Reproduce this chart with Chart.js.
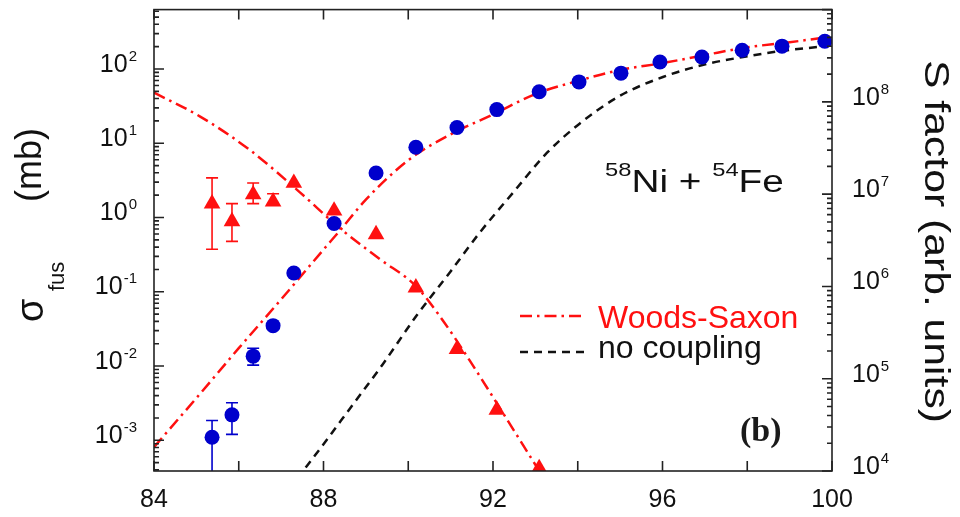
<!DOCTYPE html>
<html>
<head>
<meta charset="utf-8">
<script src="https://cdn.jsdelivr.net/npm/chart.js@4.4.1/dist/chart.umd.min.js"></script>
<style>
  html, body { margin: 0; padding: 0; background: #fff; }
  #wrap { width: 960px; height: 517px; }
</style>
</head>
<body>
<div id="wrap"><canvas id="chart" width="960" height="517"></canvas></div>
<script>
/* ---- Data: 58Ni + 54Fe fusion ---- */
const energies   = [85.37, 85.84, 86.34, 86.81, 87.30, 88.25, 89.24, 90.18, 91.15, 92.09,
                    93.09, 94.03, 95.02, 95.94, 96.93, 97.88, 98.82, 99.83];
const sigmaFus   = [1.1e-3, 2.2e-3, 1.36e-2, 3.5e-2, 0.179, 0.83, 3.98, 8.85, 16.3, 28.4,
                    49.4, 67, 88, 124, 145, 179, 203, 236];
const sigmaErrLo = [1e-5, 1.2e-3, 1.03e-2];
const sigmaErrHi = [1.85e-3, 3.2e-3, 1.74e-2];

const sEnergies  = [85.37, 85.84, 86.34, 86.81, 87.30, 88.25, 89.24, 90.18, 91.15, 92.09, 93.09];
const sFactor    = [7.9e6, 5.06e6, 9.9e6, 8.3e6, 1.32e7, 6.6e6, 3.66e6, 9.7e5, 2.09e5, 4.6e4, 1.07e4];
const sErrLo     = [2.53e6, 3.08e6, 7.9e6, 7.7e6];
const sErrHi     = [1.5e7, 7.9e6, 1.32e7, 1.01e7];

// Woods-Saxon calculation (cross section, left axis)
const wsSigmaE   = [84.0, 85.0, 86.0, 87.0, 88.0, 88.39, 89.0, 90.0, 91.0, 92.0, 93.0, 94.0,
                    95.0, 96.0, 97.0, 98.0, 99.0, 100.0];
const wsSigma    = [8.1e-4, 3.7e-3, 1.74e-2, 7.9e-2, 0.37, 0.67, 1.74, 5.9, 13.2, 24.4, 46, 69,
                    97, 120, 154, 196, 229, 275];
// Woods-Saxon calculation (S factor, right axis)
const wsSE       = [84.0, 85.09, 86.27, 87.45, 88.39, 89.33, 90.18, 90.75, 91.46, 92.17, 93.09, 93.58];
const wsS        = [1.26e8, 6.93e7, 2.99e7, 1.04e7, 4.26e6, 1.98e6, 1.01e6, 4.72e5, 1.55e5, 4.74e4,
                    1.0e4, 4.3e3];
// no coupling (cross section, left axis)
const noCoupE    = [87.2, 87.52, 88.0, 88.63, 89.40, 90.21, 90.99, 91.69, 92.47, 93.27, 94.05,
                    95.0, 96.01, 97.05, 97.90, 98.77, 99.83, 100.0];
const noCoup     = [2.1e-4, 3.86e-4, 8.85e-4, 2.71e-3, 1.06e-2, 4.9e-2, 0.185, 0.63, 2.15, 7.4, 18.5,
                    43.7, 78, 117, 145, 174, 203, 209];

// Axes
const xTicks       = [84, 86, 88, 90, 92, 94, 96, 98, 100];
const xLabels      = [84, 88, 92, 96, 100];
const leftDecades  = [-3, -2, -1, 0, 1, 2];
const rightDecades = [4, 5, 6, 7, 8];

/* ---- Style ---- */
const FONT  = '"Liberation Sans", Arial, Helvetica, sans-serif';
const RED   = '#ff1010';
const BLUE  = '#0000cc';
const BLACK = '#111111';
const DASHDOT = [12, 5, 2.5, 5];
const DASHED  = [8, 6];

const pts = (xs, ys) => xs.map((x, i) => ({ x, y: ys[i] }));

/* ---- Error bars ---- */
function drawBars(ctx, xs, ys, ex, lo, hi, color) {
  ctx.strokeStyle = color;
  ctx.lineWidth = 1.6;
  lo.forEach((l, i) => {
    if (l == null) return;
    const x  = xs.getPixelForValue(ex[i]);
    const y1 = ys.getPixelForValue(l);
    const y2 = ys.getPixelForValue(hi[i]);
    ctx.beginPath();
    ctx.moveTo(x, y1); ctx.lineTo(x, y2);
    ctx.moveTo(x - 6, y1); ctx.lineTo(x + 6, y1);
    ctx.moveTo(x - 6, y2); ctx.lineTo(x + 6, y2);
    ctx.stroke();
  });
}

const errorBarPlugin = {
  id: 'errorBars',
  beforeDatasetsDraw(chart) {
    const { ctx, chartArea: a, scales } = chart;
    ctx.save();
    ctx.beginPath();
    ctx.rect(a.left, a.top, a.right - a.left, a.bottom - a.top);
    ctx.clip();
    drawBars(ctx, scales.x, scales.y, energies, sigmaErrLo, sigmaErrHi, BLUE);
    drawBars(ctx, scales.x, scales.y2, sEnergies, sErrLo, sErrHi, RED);
    ctx.restore();
  }
};

/* ---- 10^n label ---- */
function drawPow(ctx, x, y, exp, align) {
  ctx.font = '25px ' + FONT;
  const w10 = ctx.measureText('10').width;
  ctx.font = '15px ' + FONT;
  const wE = ctx.measureText(String(exp)).width;
  const start = align === 'right' ? x - (w10 + 1 + wE) : x;
  ctx.textAlign = 'left';
  ctx.textBaseline = 'alphabetic';
  ctx.font = '25px ' + FONT;
  ctx.fillText('10', start, y);
  ctx.font = '15px ' + FONT;
  ctx.fillText(String(exp), start + w10 + 1, y - 11);
}

/* ---- Frame, ticks, labels, titles, legend ---- */
const framePlugin = {
  id: 'frame',
  afterDraw(chart) {
    const { ctx, chartArea: a, scales } = chart;
    const { x: sx, y: sy, y2: sy2 } = scales;
    ctx.save();
    ctx.strokeStyle = '#222';
    ctx.fillStyle = BLACK;
    ctx.lineWidth = 1.6;
    ctx.setLineDash([]);
    ctx.strokeRect(a.left, a.top, a.right - a.left, a.bottom - a.top);

    // ticks x (bottom and top, inward)
    ctx.beginPath();
    xTicks.forEach(v => {
      const px = sx.getPixelForValue(v);
      ctx.moveTo(px, a.bottom); ctx.lineTo(px, a.bottom - 10);
      ctx.moveTo(px, a.top);    ctx.lineTo(px, a.top + 10);
    });
    // log ticks, left and right
    const logTicks = (scale, edge, dir) => {
      for (let k = -6; k <= 10; k++) {
        for (let m = 1; m <= 9; m++) {
          const v = m * Math.pow(10, k);
          if (v < scale.min * 0.999 || v > scale.max * 1.001) continue;
          const py = scale.getPixelForValue(v);
          const len = m === 1 ? 10 : 5;
          ctx.moveTo(edge, py); ctx.lineTo(edge + dir * len, py);
        }
      }
    };
    logTicks(sy, a.left, 1);
    logTicks(sy2, a.right, -1);
    ctx.stroke();

    // tick labels
    ctx.font = '25px ' + FONT;
    ctx.textAlign = 'center';
    ctx.textBaseline = 'alphabetic';
    xLabels.forEach(v => ctx.fillText(String(v), sx.getPixelForValue(v), 507));
    leftDecades.forEach(k => drawPow(ctx, 137, sy.getPixelForValue(Math.pow(10, k)) + 2.5, k, 'right'));
    rightDecades.forEach(k => drawPow(ctx, 852, sy2.getPixelForValue(Math.pow(10, k)) + 3, k, 'left'));

    // left title
    ctx.save();
    ctx.translate(43, 0);
    ctx.rotate(-Math.PI / 2);
    ctx.textAlign = 'left';
    ctx.font = '38px ' + FONT;
    ctx.fillText('σ', -322, 0);
    ctx.font = '22px ' + FONT;
    ctx.fillText('fus', -291, 21);
    ctx.font = '36px ' + FONT;
    ctx.fillText('(mb)', -202, -2);
    ctx.restore();

    // right title (stretched along the text to span 60..423)
    ctx.save();
    ctx.translate(925, 60);
    ctx.rotate(Math.PI / 2);
    ctx.textAlign = 'left';
    ctx.font = '35px ' + FONT;
    const rt = 'S factor (arb. units)';
    const rw = ctx.measureText(rt).width;
    ctx.scale(363 / rw, 1);
    ctx.fillText(rt, 0, 0);
    ctx.restore();

    // reaction label, horizontally stretched
    ctx.save();
    ctx.translate(605, 192);
    ctx.scale(1.25, 1);
    ctx.textAlign = 'left';
    let cx = 0;
    const piece = (txt, size, dy) => {
      ctx.font = size + 'px ' + FONT;
      ctx.fillText(txt, cx, dy);
      cx += ctx.measureText(txt).width;
    };
    piece('58', 19, -16);
    piece('Ni + ', 31, 0);
    piece('54', 19, -16);
    piece('Fe', 31, 0);
    ctx.restore();

    // panel label
    ctx.font = 'bold 34px "Liberation Serif", "Times New Roman", serif';
    ctx.fillStyle = '#1a1a1a';
    ctx.textAlign = 'left';
    ctx.fillText('(b)', 740, 441);

    // legend
    ctx.lineWidth = 2.4;
    ctx.strokeStyle = RED;
    ctx.setLineDash(DASHDOT);
    ctx.beginPath(); ctx.moveTo(520, 316); ctx.lineTo(584, 316); ctx.stroke();
    ctx.strokeStyle = BLACK;
    ctx.setLineDash(DASHED);
    ctx.beginPath(); ctx.moveTo(520, 352); ctx.lineTo(584, 352); ctx.stroke();
    ctx.setLineDash([]);
    ctx.font = '32px ' + FONT;
    ctx.fillStyle = RED;
    ctx.fillText('Woods-Saxon', 598, 328);
    ctx.fillStyle = BLACK;
    ctx.fillText('no coupling', 598, 358);
    ctx.restore();
  }
};

/* ---- Chart ---- */
const lineDs = (label, data, axis, color, dash) => ({
  label, data, yAxisID: axis,
  showLine: true, borderColor: color, borderWidth: 2.5, borderDash: dash,
  pointRadius: 0, cubicInterpolationMode: 'monotone', clip: 0, order: 2
});

new Chart(document.getElementById('chart').getContext('2d'), {
  type: 'scatter',
  data: {
    datasets: [
      lineDs('Woods-Saxon σ', pts(wsSigmaE, wsSigma), 'y', RED, DASHDOT),
      lineDs('no coupling', pts(noCoupE, noCoup), 'y', BLACK, DASHED),
      lineDs('Woods-Saxon S', pts(wsSE, wsS), 'y2', RED, DASHDOT),
      {
        label: 'σ fus', data: pts(energies, sigmaFus), yAxisID: 'y',
        pointStyle: 'circle', pointRadius: 7.5, backgroundColor: BLUE, borderWidth: 0, order: 0
      },
      {
        label: 'S factor', data: pts(sEnergies, sFactor), yAxisID: 'y2',
        pointStyle: 'triangle', pointRadius: 9.6, backgroundColor: RED, borderWidth: 0, order: 0
      }
    ]
  },
  options: {
    responsive: false,
    animation: false,
    events: [],
    layout: { padding: { left: 154, right: 128, top: 5, bottom: 46 } },
    plugins: { legend: { display: false }, tooltip: { enabled: false } },
    scales: {
      x:  { type: 'linear', min: 84, max: 100, display: false },
      y:  { type: 'logarithmic', min: 3.86e-4, max: 631, display: false },
      y2: { type: 'logarithmic', min: 1e4, max: 1e9, display: false, position: 'right' }
    }
  },
  plugins: [errorBarPlugin, framePlugin]
});
</script>
</body>
</html>
